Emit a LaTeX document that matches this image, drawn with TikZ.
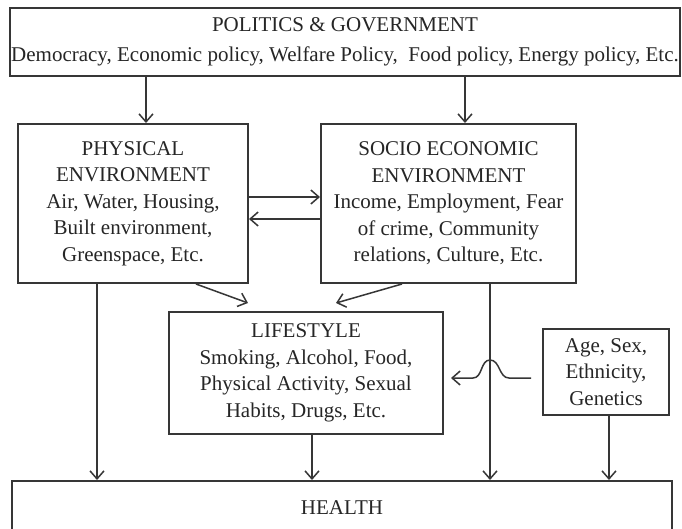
\documentclass[tikz,border=0pt]{standalone}
\usepackage{fontspec}
\setmainfont{Liberation Serif}
\usetikzlibrary{arrows.meta,calc}
\definecolor{ink}{HTML}{262626}
\definecolor{edge}{HTML}{363636}
\tikzset{
  box/.style={draw=edge, line width=2pt, rectangle, inner sep=0pt, align=center,
    text=ink, font=\fontsize{21}{26.5}\selectfont},
  arr/.style={draw=edge, line width=1.5pt,
    -{Straight Barb[length=8pt,width=14pt,line width=1.5pt]}},
}
\begin{document}
\begin{tikzpicture}[x=1pt,y=-1pt]
  \useasboundingbox (0,0) rectangle (682,528);
  \clip (0,0) rectangle (682,528);
  \fill[white] (0,0) rectangle (682,528);

  % boxes
  \node[box, minimum width=670, minimum height=68, font=\fontsize{21}{30}\selectfont]
    (top) at (345,42) {POLITICS \& GOVERNMENT\\Democracy, Economic policy, Welfare Policy, \ Food policy, Energy policy, Etc.};
  \node[box, minimum width=230, minimum height=159] (phys) at (133,203.5)
    {PHYSICAL\\ENVIRONMENT\\Air, Water, Housing,\\Built environment,\\Greenspace, Etc.};
  \node[box, minimum width=255, minimum height=159] (socio) at (448.5,203.5)
    {SOCIO ECONOMIC\\ENVIRONMENT\\Income, Employment, Fear\\of crime, Community\\relations, Culture, Etc.};
  \node[box, minimum width=274, minimum height=122] (life) at (306,373)
    {LIFESTYLE\\Smoking, Alcohol, Food,\\Physical Activity, Sexual\\Habits, Drugs, Etc.};
  \node[box, minimum width=126, minimum height=86] (age) at (606,372)
    {Age, Sex,\\Ethnicity,\\Genetics};
  \node[box, minimum width=660, minimum height=60, anchor=north] (health) at (342,480)
    {\raisebox{6pt}{HEALTH}};

  % politics to the two environments
  \draw[arr] ([xshift=13pt]phys.north |- top.south) -- ([xshift=13pt]phys.north);
  \draw[arr] ([xshift=16.5pt]socio.north |- top.south) -- ([xshift=16.5pt]socio.north);

  % between the environments
  \draw[arr] ([yshift=6.5pt]phys.east) -- ([yshift=6.5pt]phys.east -| socio.west);
  \draw[arr] ([yshift=-15.5pt]socio.west) -- ([yshift=-15.5pt]socio.west -| phys.east);

  % environments to lifestyle
  \coordinate (pltip) at (248,303);
  \coordinate (sltip) at (336,303);
  \draw[arr] ($(phys.south west)+(179,0)$) -- (pltip);
  \draw[arr] ($(socio.south west)+(82,0)$) -- (sltip);

  % everything down to health
  \draw[arr] ([xshift=-36pt]phys.south) -- ([xshift=-36pt]phys.south |- health.north);
  \draw[arr] ([xshift=6pt]life.south) -- ([xshift=6pt]life.south |- health.north);
  \draw[arr] ([xshift=41.5pt]socio.south) -- ([xshift=41.5pt]socio.south |- health.north);
  \draw[arr] ([xshift=3pt]age.south) -- ([xshift=3pt]age.south |- health.north);

  % age/sex to lifestyle, hopping over the socio-economic line
  \coordinate (hopR) at (509,378);
  \coordinate (hopL) at (473,378);
  \coordinate (hopTop) at (490,360);
  \draw[arr] ($(age.west)+(-11,6)$) -- (hopR)
    to[out=180,in=0] (hopTop) to[out=180,in=0] (hopL)
    -- ($(life.east |- hopL)+(7,0)$);
\end{tikzpicture}
\end{document}
